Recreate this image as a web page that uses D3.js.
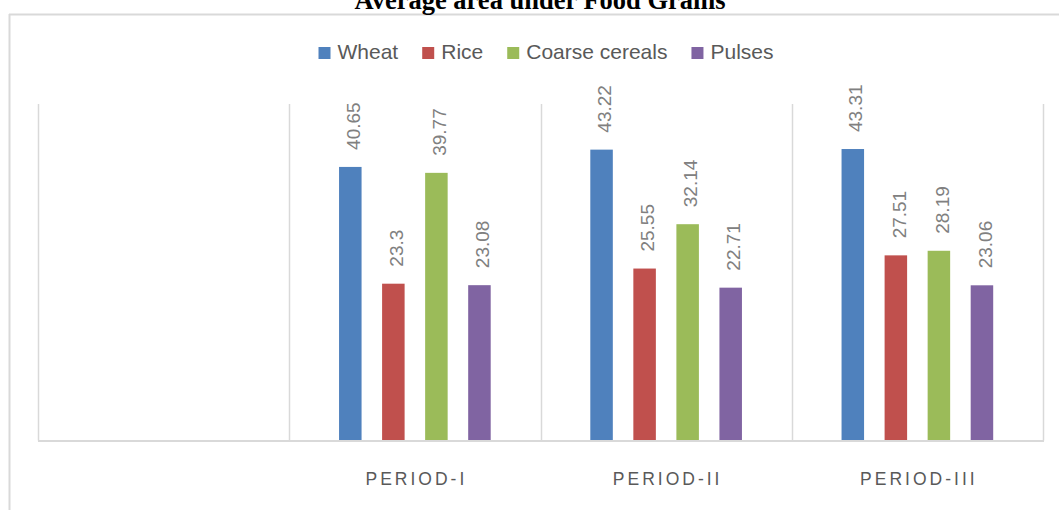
<!DOCTYPE html>
<html>
<head>
<meta charset="utf-8">
<script src="https://cdn.jsdelivr.net/npm/d3@7"></script>
<style>
  html, body { margin: 0; padding: 0; background: #fff; }
  svg { display: block; }
</style>
</head>
<body>
<svg id="chart" width="1059" height="510"></svg>
<script>
const title = "Average area under Food Grains";
const categories = ["", "PERIOD-I", "PERIOD-II", "PERIOD-III"];
const seriesNames = ["Wheat", "Rice", "Coarse cereals", "Pulses"];
const wheat  = [null, 40.65, 43.22, 43.31];
const rice   = [null, 23.3, 25.55, 27.51];
const coarse = [null, 39.77, 32.14, 28.19];
const pulses = [null, 23.08, 22.71, 23.06];
const colors = ["#4f81bd", "#c0504d", "#9bbb59", "#8064a2"];
const yDomain = [0, 50];

const seriesValues = [wheat, rice, coarse, pulses];
const W = 1059, H = 510;
const svg = d3.select("#chart");
const gridColor = "#d9d9d9";

// outer frame
svg.append("line").attr("x1", 9.5).attr("x2", 9.5).attr("y1", 14).attr("y2", H)
  .attr("stroke", gridColor).attr("stroke-width", 2);
svg.append("line").attr("x1", 9).attr("x2", W).attr("y1", 14.5).attr("y2", 14.5)
  .attr("stroke", gridColor).attr("stroke-width", 2);

// title
svg.append("text").attr("x", 540).attr("y", 9)
  .attr("text-anchor", "middle")
  .attr("font-family", "'Liberation Serif', 'Times New Roman', serif")
  .attr("font-weight", "bold").attr("font-size", "26.5px").attr("fill", "#000")
  .text(title);

const plotLeft = 38, plotRight = 1043, plotTop = 104, plotBottom = 440.5;

const x0 = d3.scaleBand().domain(categories).range([plotLeft, plotRight]).padding(0);
const x1 = d3.scaleBand().domain(seriesNames).range([0, x0.bandwidth()])
  .paddingInner(0.477).paddingOuter(1.157);
const y = d3.scaleLinear().domain(yDomain).range([plotBottom, plotTop]);

// vertical category separators
const sepX = categories.map(c => x0(c)).concat([plotRight]);
svg.append("g").selectAll("line").data(sepX).join("line")
  .attr("x1", d => Math.round(d) + 0.5).attr("x2", d => Math.round(d) + 0.5)
  .attr("y1", plotTop).attr("y2", plotBottom)
  .attr("stroke", gridColor).attr("stroke-width", 1.5);

// bars
const rows = [];
categories.forEach((c, i) => {
  seriesNames.forEach((s, j) => {
    const v = seriesValues[j][i];
    if (v != null) rows.push({ c, s, v, color: colors[j] });
  });
});

svg.append("g").selectAll("rect").data(rows).join("rect")
  .attr("x", d => x0(d.c) + x1(d.s))
  .attr("width", x1.bandwidth())
  .attr("y", d => y(d.v))
  .attr("height", d => y(0) - y(d.v))
  .attr("fill", d => d.color);

// baseline axis
svg.append("line").attr("x1", plotLeft).attr("x2", plotRight + 1)
  .attr("y1", plotBottom + 0.5).attr("y2", plotBottom + 0.5)
  .attr("stroke", gridColor).attr("stroke-width", 2);

// value labels
svg.append("g").selectAll("text").data(rows).join("text")
  .attr("transform", d => `translate(${x0(d.c) + x1(d.s) + x1.bandwidth() / 2 + 3},${y(d.v) - 17}) rotate(-90)`)
  .attr("dy", "0.35em")
  .attr("text-anchor", "start")
  .attr("font-family", "'Liberation Sans', Arial, sans-serif")
  .attr("font-size", "19px").attr("fill", "#808080")
  .text(d => String(d.v));

// category labels
const ls = 3;
svg.append("g").selectAll("text").data(categories.filter(c => c !== "")).join("text")
  .attr("x", d => x0(d) + x0.bandwidth() / 2 + ls / 2)
  .attr("y", 485)
  .attr("text-anchor", "middle")
  .attr("font-family", "'Liberation Sans', Arial, sans-serif")
  .attr("font-size", "17.5px").attr("letter-spacing", ls + "px").attr("fill", "#595959")
  .text(d => d);

// legend
const legend = svg.append("g");
const items = seriesNames.map((s, j) => {
  const g = legend.append("g");
  g.append("rect").attr("width", 12).attr("height", 12).attr("y", 47).attr("fill", colors[j]);
  const t = g.append("text").attr("x", 19).attr("y", 59)
    .attr("font-family", "'Liberation Sans', Arial, sans-serif")
    .attr("font-size", "21px").attr("fill", "#595959").text(s);
  return { g, w: 19 + t.node().getComputedTextLength() };
});
const gap = 24;
const totalW = d3.sum(items, d => d.w) + gap * (items.length - 1);
let cx = 546 - totalW / 2;
items.forEach(it => { it.g.attr("transform", `translate(${cx},0)`); cx += it.w + gap; });
</script>
</body>
</html>
